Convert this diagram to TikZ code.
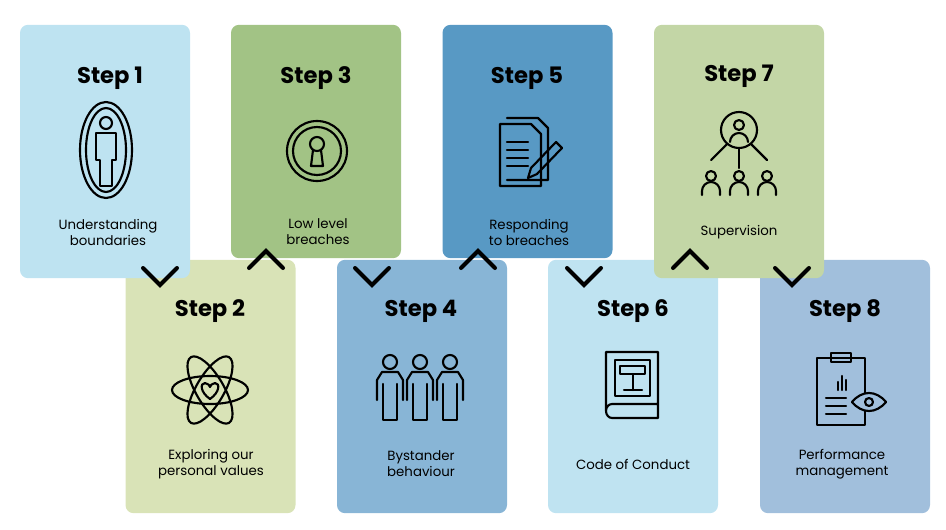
\documentclass[tikz,border=0pt]{standalone}
\usepackage{fontspec}
\setmainfont{Poppins}
\usetikzlibrary{positioning}
\definecolor{cA}{HTML}{BEE3F1}\definecolor{cB}{HTML}{D9E3B7}
\definecolor{cC}{HTML}{A2C385}\definecolor{cD}{HTML}{88B5D6}
\definecolor{cE}{HTML}{5899C4}\definecolor{cF}{HTML}{BFE3F1}
\definecolor{cG}{HTML}{C3D6A6}\definecolor{cH}{HTML}{A1BFDC}
\begin{document}
\begin{tikzpicture}[x=0.75pt,y=-0.75pt,
 card/.style={rounded corners=6pt,minimum width=127.5pt,minimum height=190pt,inner sep=0pt},
 ttl/.style={font=\bfseries\fontsize{17}{20}\selectfont},
 lbl/.style={font=\fontsize{10}{12}\selectfont,align=center},
 ic/.style={line width=1.6pt,line join=round,line cap=round},
 chev/.style={line width=3pt,line cap=round,line join=miter}]
\useasboundingbox (0,0) rectangle (946,529);
% bottom cards
\node[card,fill=cB] (c2) at (210.5,386.5) {};
\node[card,fill=cD] (c4) at (422,386.5) {};
\node[card,fill=cF] (c6) at (633,386.5) {};
\node[card,fill=cH] (c8) at (845,386.5) {};
% top cards
\node[card,fill=cA] (c1) at (105,151.5) {};
\node[card,fill=cC] (c3) at (316,141.5) [minimum height=175pt] {};
\node[card,fill=cE] (c5) at (527.5,141.5) [minimum height=175pt] {};
\node[card,fill=cG] (c7) at (739,151.5) {};
% titles
\node[ttl] (t1) at (110,78) {Step 1};
\node[ttl] (t3) at (316,78) {Step 3};
\node[ttl] (t5) at (527,78) {Step 5};
\node[ttl] (t7) at (739,76) {Step 7};
\node[ttl] (t2) at (210,311) {Step 2};
\node[ttl] (t4) at (421,311) {Step 4};
\node[ttl] (t6) at (633,311) {Step 6};
\node[ttl] (t8) at (845,311) {Step 8};
% labels
\node[lbl] (l1) at (108,232) {Understanding\\boundaries};
\node[lbl] (l3) at (318,232) {Low level\\breaches};
\node[lbl] (l5) at (529,232) {Responding\\to breaches};
\node[lbl] (l7) at (739,232) {Supervision};
\node[lbl] (l2) at (211,464) {Exploring our\\personal values};
\node[lbl] (l4) at (421,464) {Bystander\\behaviour};
\node[lbl] (l6) at (633,464) {Code of Conduct};
\node[lbl] (l8) at (842,464) {Performance\\management};
% chevrons
\draw[chev] (143,268)--(160,285)--(177,268);
\draw[chev] (355,268)--(372,285)--(389,268);
\draw[chev] (567,268)--(584,285)--(601,268);
\draw[chev] (775,268)--(792,285)--(809,268);
\draw[chev] (249,268)--(266,251)--(283,268);
\draw[chev] (461,268)--(478,251)--(495,268);
\draw[chev] (673,268)--(690,251)--(707,268);
% icon 1: person
\begin{scope}[ic]
\draw (106,123) circle (6);
\draw (96,133) -- (116,133) -- (116,160) -- (112,160) -- (112,186) -- (100,186) -- (100,160) -- (96,160) -- cycle;
\draw (106,150) ellipse (20 and 42);
\draw (106,150) ellipse (26 and 48);
\end{scope}
% icon 3: keyhole
\begin{scope}[ic]
\draw (317,151) circle (30);
\draw (317,151) circle (24);
\draw (317,144) circle (7);
\draw (313,150) -- (311,166) -- (323,166) -- (321,150);
\end{scope}
% icon 5: document and pen
\begin{scope}[ic]
\draw (507,118) -- (538,118) -- (548,128) -- (548,180) -- (507,180);
\draw (500,124) -- (531,124) -- (541,134) -- (541,186) -- (500,186) -- cycle;
\foreach \y in {142,150,158,166} \draw (507,\y) -- (528,\y);
\draw (528,178) -- (531,168) -- (556,142) -- (562,148) -- (537,174) -- cycle;
\end{scope}
% icon 7: supervision
\begin{scope}[ic]
\draw (739,130) circle (18);
\draw (739,125) circle (5);
\draw (730,142) arc (180:360:9);
\draw (739,148) -- (739,168);
\draw (727,144) -- (711,160); \draw (751,144) -- (767,160);
\foreach \x in {711,739,767}{\draw (\x,176) circle (5); \draw (\x-9,195) -- (\x-9,191) arc (180:360:9) -- (\x+9,195);}
\end{scope}
% icon 2: atom heart
\begin{scope}[ic]
\draw (210,390) ellipse (38 and 14);
\draw[rotate around={60:(210,390)}] (210,390) ellipse (38 and 14);
\draw[rotate around={-60:(210,390)}] (210,390) ellipse (38 and 14);
\draw (210,399) .. controls (200,392) and (200,383) .. (205,383) .. controls (208,383) and (210,386) .. (210,387)
 .. controls (210,386) and (212,383) .. (215,383) .. controls (220,383) and (220,392) .. (210,399);
\end{scope}
% icon 4: three people
\begin{scope}[ic]
\foreach \x in {390,420,450}{\draw (\x,362) circle (7);
\draw (\x-13,400) -- (\x-13,380) -- (\x-8,372) -- (\x+8,372) -- (\x+13,380) -- (\x+13,400);
\draw (\x-7,384) -- (\x-7,420) -- (\x+7,420) -- (\x+7,384);}
\end{scope}
% icon 6: book with gavel
\begin{scope}[ic]
\draw (606,411) -- (606,352) -- (658,352) -- (658,418) -- (612,418) arc (90:270:6 and 7) -- (658,404);
\draw (615,360) rectangle (650,396);
\draw (620,366) rectangle (645,374); \draw (633,374) -- (633,390); \draw (624,390) -- (642,390);
\end{scope}
% icon 8: clipboard with eye
\begin{scope}[ic]
\draw (817,358) -- (817,425) -- (865,425) -- (865,358) -- cycle;
\draw (831,353) rectangle (851,362);
\draw (838,390) -- (838,382); \draw (842,390) -- (842,376); \draw (846,390) -- (846,380);
\foreach \y in {398,406,414} \draw (826,\y) -- (846,\y);
\draw[fill=cH] (852,402) .. controls (862,390) and (876,390) .. (886,402) .. controls (876,414) and (862,414) .. (852,402);
\draw (869,402) circle (4);
\end{scope}
\end{tikzpicture}
\end{document}
